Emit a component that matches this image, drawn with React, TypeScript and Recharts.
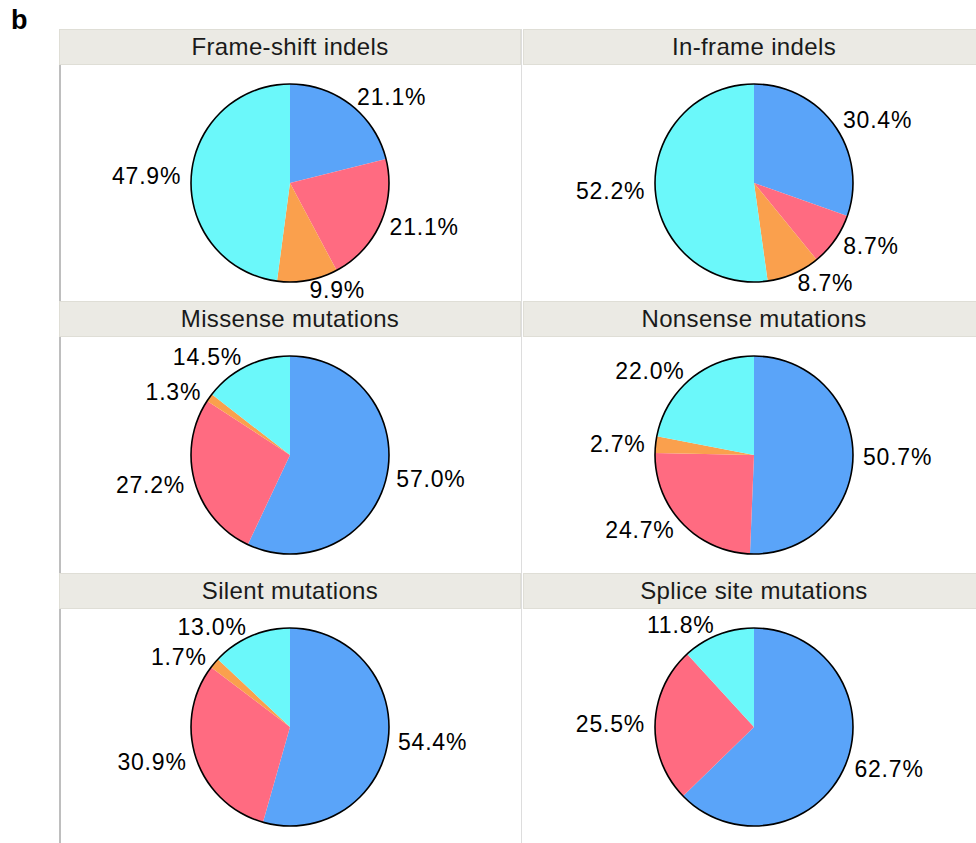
import React from 'react';
import { PieChart, Pie, Cell } from 'recharts';

// slice order, clockwise from 12 o'clock
const sliceNames = ['Group 1', 'Group 2', 'Group 3', 'Group 4'];
const sliceColors = ['#5AA4F9', '#FF6B81', '#FAA04D', '#6BF8FA'];

const panelTitles = [
  'Frame-shift indels',
  'In-frame indels',
  'Missense mutations',
  'Nonsense mutations',
  'Silent mutations',
  'Splice site mutations',
];

const frameShift = [21.1, 21.1, 9.9, 47.9];
const inFrame = [30.4, 8.7, 8.7, 52.2];
const missense = [57.0, 27.2, 1.3, 14.5];
const nonsense = [50.7, 24.7, 2.7, 22.0];
const silent = [54.4, 30.9, 1.7, 13.0];
const splice = [62.7, 25.5, 0, 11.8];

const panelValues = [frameShift, inFrame, missense, nonsense, silent, splice];

const FONT = '"Liberation Sans", Arial, Helvetica, sans-serif';
const RADIAN = Math.PI / 180;

const renderLabel = (props: any) => {
  const { cx, cy, midAngle, outerRadius, value } = props;
  if (!value) return null;
  const r = outerRadius + 10;
  const x = cx + r * Math.cos(-midAngle * RADIAN);
  const y = cy + r * Math.sin(-midAngle * RADIAN);
  return (
    <text
      x={x}
      y={y}
      fill="#000"
      fontSize={23}
      letterSpacing={0.8}
      fontFamily={FONT}
      textAnchor={x > cx ? 'start' : 'end'}
      dominantBaseline="central"
    >
      {value.toFixed(1)}%
    </text>
  );
};

// single full slice used as the black rim
const outline = [{ name: 'all', value: 1 }];

const PiePanel: React.FC<{ values: number[] }> = ({ values }) => {
  const data = sliceNames.map((name, i) => ({ name, value: values[i] }));
  return (
    <PieChart width={462} height={252} margin={{ top: 0, right: 0, bottom: 0, left: 0 }}>
      <Pie
        data={data}
        dataKey="value"
        cx={231}
        cy={118}
        outerRadius={99}
        startAngle={90}
        endAngle={-270}
        stroke="none"
        label={renderLabel}
        labelLine={false}
        isAnimationActive={false}
      >
        {data.map((d, i) => (
          <Cell key={d.name} fill={sliceColors[i]} />
        ))}
      </Pie>
      <Pie
        data={outline}
        dataKey="value"
        cx={231}
        cy={118}
        innerRadius={98.2}
        outerRadius={99.8}
        startAngle={90}
        endAngle={-270}
        fill="#000"
        stroke="none"
        label={false}
        labelLine={false}
        isAnimationActive={false}
      />
    </PieChart>
  );
};

const colLeft = [59, 523];
const rowTop = [29, 301, 573];

export default function App() {
  return (
    <div
      style={{
        position: 'absolute',
        left: 0,
        top: 0,
        width: 976,
        height: 843,
        overflow: 'hidden',
        background: '#fff',
        fontFamily: FONT,
      }}
    >
      <div
        style={{
          position: 'absolute',
          left: 11,
          top: 5,
          fontSize: 27,
          fontWeight: 'bold',
          lineHeight: '30px',
        }}
      >
        b
      </div>
      {/* panel grid lines */}
      <div style={{ position: 'absolute', left: 59, top: 29, width: 2, height: 814, background: '#BEBEBE' }} />
      <div style={{ position: 'absolute', left: 521, top: 29, width: 1, height: 814, background: '#DDDDDD' }} />
      {panelTitles.map((title, i) => {
        const left = colLeft[i % 2];
        const top = rowTop[Math.floor(i / 2)];
        return (
          <React.Fragment key={title}>
            <div style={{ position: 'absolute', left, top: top + 36 }}>
              <PiePanel values={panelValues[i]} />
            </div>
            <div
              style={{
                position: 'absolute',
                left,
                top,
                width: 462,
                height: 36,
                boxSizing: 'border-box',
                background: '#EBEAE4',
                border: '1.5px solid #DFDED6',
                display: 'flex',
                alignItems: 'center',
                justifyContent: 'center',
                fontSize: 24,
                letterSpacing: 0.35,
                color: '#1A1A1A',
              }}
            >
              {title}
            </div>
          </React.Fragment>
        );
      })}
    </div>
  );
}
